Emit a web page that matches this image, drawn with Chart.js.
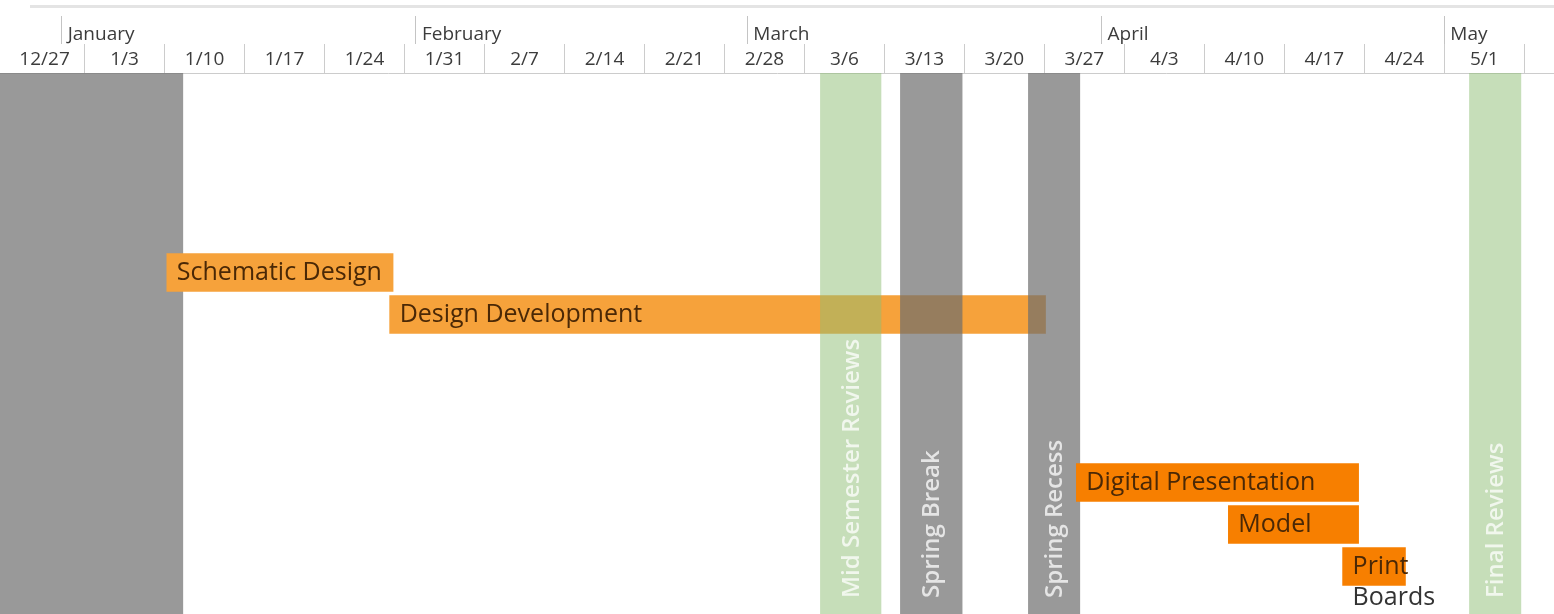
<!DOCTYPE html>
<html>
<head>
<meta charset="utf-8">
<script src="https://cdn.jsdelivr.net/npm/chart.js@4.4.0/dist/chart.umd.min.js"></script>
<style>
    html, body { margin: 0; padding: 0; background: #fff; }
    #wrap { position: relative; width: 1554px; height: 614px; }
    #topline { position: absolute; left: 30px; right: 0; top: 5px; height: 3px; background: #e4e4e4; }
</style>
</head>
<body>
<div id="wrap">
    <div id="topline"></div>
    <canvas id="timeline" width="1554" height="614"></canvas>
</div>
<script>
// days counted from Jan 1 2016 (0 = 1/1)
const weekStarts = [-5, 2, 9, 16, 23, 30, 37, 44, 51, 58, 65, 72, 79, 86, 93, 100, 107, 114, 121, 128];
const weekLabels = ['12/27', '1/3', '1/10', '1/17', '1/24', '1/31', '2/7', '2/14', '2/21', '2/28',
    '3/6', '3/13', '3/20', '3/27', '4/3', '4/10', '4/17', '4/24', '5/1'];
const monthStarts = [0, 31, 60, 91, 121];
const monthLabels = ['January', 'February', 'March', 'April', 'May'];

// vertical bands (breaks and reviews)
const bandNames = ['', 'Mid Semester Reviews', 'Spring Break', 'Spring Recess', 'Final Reviews'];
const bandStart = [-8, 66.4, 73.4, 84.6, 123.2];
const bandEnd = [10.6, 71.7, 78.8, 89.1, 127.7];
const bandColors = ['rgba(110,110,110,0.7)', 'rgba(141,189,115,0.5)', 'rgba(110,110,110,0.7)',
    'rgba(110,110,110,0.7)', 'rgba(141,189,115,0.5)'];

// tasks
const taskNames = ['Schematic Design', 'Design Development', 'Digital Presentation', 'Model', ['Print', 'Boards']];
const taskRows = [0, 1, 5, 6, 7];
const taskStart = [9.2, 28.7, 88.8, 102.1, 112.1];
const taskEnd = [29.0, 86.1, 113.5, 113.5, 117.6];
const taskColors = ['#f6a23b', '#f6a23b', '#f77f00', '#f77f00', '#f77f00'];
const taskOnTop = [true, false, true, true, true]; // design development sits under the bands

const xMin = -5.4, xMax = 130.6;
const yMin = -4.75, yMax = 8.13;

const overIdx = taskNames.map((n, i) => i).filter(i => taskOnTop[i]);
const underIdx = taskNames.map((n, i) => i).filter(i => !taskOnTop[i]);

function taskPoints(idx) {
    return idx.map(i => ({ x: [taskStart[i], taskEnd[i]], y: taskRows[i] }));
}

const labelPlugin = {
    id: 'barLabels',
    afterDatasetsDraw(chart) {
        const ctx = chart.ctx;
        ctx.save();
        // band labels, rotated, reading upwards from the bottom
        chart.getDatasetMeta(1).data.forEach((bar, i) => {
            if (!bandNames[i]) return;
            const p = bar.getProps(['x', 'base']);
            ctx.save();
            ctx.translate((p.x + p.base) / 2, 598);
            ctx.rotate(-Math.PI / 2);
            ctx.font = '600 24px "Open Sans"';
            ctx.fillStyle = 'rgba(255,255,255,0.75)';
            ctx.textAlign = 'left';
            ctx.textBaseline = 'middle';
            ctx.fillText(bandNames[i], 0, 1);
            ctx.restore();
        });
        // task labels inside the bars
        [[0, overIdx], [2, underIdx]].forEach(([ds, idx]) => {
            chart.getDatasetMeta(ds).data.forEach((bar, k) => {
                const i = idx[k];
                const p = bar.getProps(['x', 'base', 'y']);
                const left = Math.min(p.x, p.base) + 10;
                const lines = Array.isArray(taskNames[i]) ? taskNames[i] : [taskNames[i]];
                ctx.font = '25px "Open Sans"';
                ctx.textAlign = 'left';
                ctx.textBaseline = 'middle';
                lines.forEach((line, n) => {
                    ctx.fillStyle = n === 0 ? '#4a2806' : '#333333';
                    ctx.fillText(line, left, p.y + n * 31);
                });
            });
        });
        ctx.restore();
    }
};

function renderChart() {
    const ctx = document.getElementById('timeline').getContext('2d');
    new Chart(ctx, {
        type: 'bar',
        data: {
            datasets: [
                {
                    label: 'tasks over',
                    data: taskPoints(overIdx),
                    backgroundColor: overIdx.map(i => taskColors[i]),
                    barThickness: 38,
                    grouped: false,
                    clip: 0
                },
                {
                    label: 'bands',
                    data: bandNames.map((n, i) => ({ x: [bandStart[i], bandEnd[i]], y: (yMin + yMax) / 2 })),
                    backgroundColor: bandColors,
                    barThickness: 800,
                    grouped: false,
                    clip: 0
                },
                {
                    label: 'tasks under',
                    data: taskPoints(underIdx),
                    backgroundColor: underIdx.map(i => taskColors[i]),
                    barThickness: 38,
                    grouped: false,
                    clip: 0
                }
            ]
        },
        options: {
            indexAxis: 'y',
            responsive: false,
            animation: false,
            layout: { padding: 0, autoPadding: false },
            plugins: { legend: { display: false }, tooltip: { enabled: false } },
            scales: {
                x: {
                    type: 'linear', position: 'top', min: xMin, max: xMax, weight: 0,
                    afterBuildTicks: s => { s.ticks = weekStarts.map(v => ({ value: v })); },
                    afterFit: s => { s.height = 29; },
                    grid: {
                        drawOnChartArea: false, tickLength: 29, lineWidth: 1,
                        color: c => c.index === 0 ? 'rgba(0,0,0,0)' : '#cccccc'
                    },
                    border: { display: true, color: '#cccccc', width: 1 },
                    ticks: {
                        autoSkip: false, maxRotation: 0, padding: -27, labelOffset: 40,
                        color: '#3c3c3c', font: { family: 'Open Sans', size: 19 },
                        callback: (v, i) => weekLabels[i] ?? ''
                    }
                },
                xMonth: {
                    type: 'linear', position: 'top', min: xMin, max: xMax, weight: 1,
                    afterBuildTicks: s => { s.ticks = monthStarts.map(v => ({ value: v })); },
                    afterFit: s => { s.height = 44; },
                    grid: { drawOnChartArea: false, tickLength: 28, color: '#c4c4c4', lineWidth: 1 },
                    border: { display: false },
                    ticks: {
                        autoSkip: false, maxRotation: 0, padding: -30, align: 'start', labelOffset: 6,
                        color: '#3c3c3c', font: { family: 'Open Sans', size: 19 },
                        callback: (v, i) => monthLabels[i] ?? ''
                    }
                },
                y: {
                    type: 'linear', display: false, reverse: true, offset: false, min: yMin, max: yMax
                }
            }
        },
        plugins: [labelPlugin]
    });
}

document.addEventListener('DOMContentLoaded', renderChart);
</script>
</body>
</html>
